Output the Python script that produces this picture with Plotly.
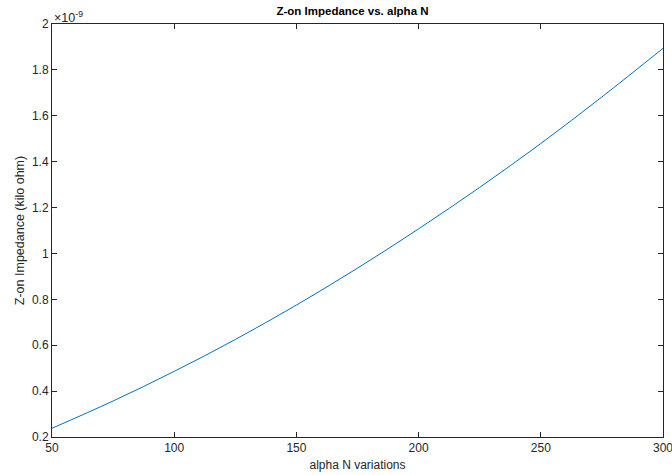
import plotly.graph_objects as go

alpha_n = [50, 75, 100, 125, 150, 175, 200, 225, 250, 275, 300]
z_on = [0.238e-9, 0.357e-9, 0.486e-9, 0.625e-9, 0.775e-9, 0.936e-9,
        1.107e-9, 1.288e-9, 1.479e-9, 1.682e-9, 1.894e-9]
x_ticks = [50, 100, 150, 200, 250, 300]
y_tick_labels = ["0.2", "0.4", "0.6", "0.8", "1", "1.2", "1.4", "1.6", "1.8", "2"]
y_ticks = [float(t) * 1e-9 for t in y_tick_labels]

font = "Liberation Sans, Arial, Helvetica, sans-serif"
axc = "#262626"

fig = go.Figure()
fig.add_trace(go.Scatter(x=alpha_n, y=z_on, mode="lines", line=dict(color="#0072BD", width=1, shape="spline"),
                         hoverinfo="skip"))

fig.update_layout(
    width=672, height=475,
    margin=dict(l=52, r=9, t=24, b=38, autoexpand=False),
    paper_bgcolor="white", plot_bgcolor="white",
    showlegend=False,
    font=dict(family=font, size=12, color=axc),
    title=dict(text="<b>Z-on Impedance vs. alpha N</b>", x=0.5 - 5 / 611, xanchor="center",
               xref="paper", y=1 - 11 / 475, yanchor="middle",
               font=dict(family=font, size=11.5, color="#000000")),
)
fig.update_xaxes(range=[50, 300], tickvals=x_ticks, ticks="inside", ticklen=5, tickcolor=axc,
                 showline=True, linecolor=axc, linewidth=1, mirror="ticks", showgrid=False, zeroline=False,
                 automargin=False, ticklabeloverflow="allow",
                 title=dict(text="alpha N variations", standoff=6, font=dict(size=12, color=axc)),
                 tickfont=dict(size=12, color=axc))
fig.update_yaxes(range=[0.2e-9, 2e-9], tickvals=y_ticks, ticktext=y_tick_labels, ticks="inside", ticklen=5,
                 tickcolor=axc, showline=True, linecolor=axc, linewidth=1, mirror="ticks", showgrid=False,
                 zeroline=False, automargin=False, ticklabeloverflow="allow",
                 title=dict(text="Z-on Impedance (kilo ohm)", standoff=4, font=dict(size=12.5, color=axc)),
                 tickfont=dict(size=12, color=axc))
fig.add_annotation(text="×10<sup>-9</sup>", xref="paper", yref="paper", x=0, y=1, xanchor="left",
                   yanchor="bottom", showarrow=False, font=dict(family=font, size=12.5, color=axc), yshift=-3)

fig.write_html("out.html", config={"displayModeBar": False},
               post_script="document.body.style.margin='0';")
